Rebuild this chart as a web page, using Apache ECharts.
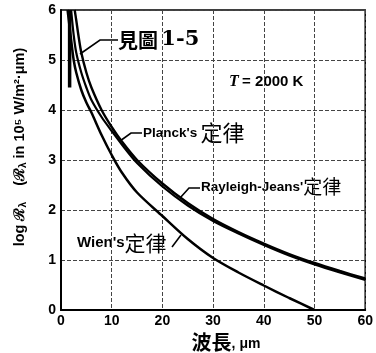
<!DOCTYPE html>
<html>
<head>
<meta charset="utf-8">
<script src="https://cdn.jsdelivr.net/npm/echarts@6/dist/echarts.min.js"></script>
<style>
html,body{margin:0;padding:0;background:#fff;}
#c{width:376px;height:353px;}
</style>
</head>
<body>
<div id="c"></div>
<script>
// ---- data ----
const xTicks = [0, 10, 20, 30, 40, 50, 60];
const yTicks = [0, 1, 2, 3, 4, 5, 6];

const planckX = [2.0, 2.5, 3, 4, 5, 6, 8, 10, 12, 15, 20, 25, 30, 35, 40, 45, 50, 55, 60];
const planckY = [6.0, 5.5, 5.15, 4.75, 4.45, 4.2, 3.86, 3.58, 3.31, 2.94, 2.47, 2.09, 1.78, 1.53, 1.30, 1.09, 0.91, 0.75, 0.60];

const rjX = [2.7, 3, 3.5, 4, 5, 6, 8, 10, 12, 15, 20, 25, 30, 35, 40, 45, 50, 55, 60];
const rjY = [6.0, 5.8, 5.45, 5.15, 4.75, 4.45, 4.0, 3.66, 3.37, 3.0, 2.53, 2.14, 1.82, 1.56, 1.33, 1.12, 0.94, 0.78, 0.63];

const wienX = [1.3, 2, 2.5, 3, 4, 5, 6, 8, 10, 12, 15, 20, 25, 30, 35, 40, 45, 50];
const wienY = [6.0, 5.4, 5.0, 4.75, 4.4, 4.15, 3.95, 3.5, 3.1, 2.75, 2.35, 1.88, 1.42, 1.04, 0.75, 0.49, 0.24, 0.0];

const stubX = [1.7, 1.7];
const stubY = [4.45, 6.0];

function pairs(xs, ys) { return xs.map((x, i) => [x, ys[i]]); }

const latin = "'Liberation Sans', Arial, sans-serif";
const cjk = "'Noto Sans CJK TC', 'Noto Sans CJK JP', sans-serif";

const chart = echarts.init(document.getElementById('c'), null, {renderer: 'canvas'});

const lineBase = {type: 'line', showSymbol: false, smooth: 0.3, silent: true, z: 5};

chart.setOption({
  animation: false,
  backgroundColor: '#fff',
  grid: {left: 61, right: 9, top: 10, bottom: 43, show: true, borderColor: '#000', borderWidth: 1.5, backgroundColor: 'transparent'},
  xAxis: {
    type: 'value', min: xTicks[0], max: xTicks[xTicks.length - 1], interval: 10,
    axisLine: {lineStyle: {color: '#000', width: 2}},
    axisTick: {show: false},
    axisLabel: {color: '#000', fontSize: 14, fontWeight: 'bold', fontFamily: latin, margin: 4},
    splitLine: {show: true, lineStyle: {color: '#444', width: 1, type: [4, 2]}}
  },
  yAxis: {
    type: 'value', min: yTicks[0], max: yTicks[yTicks.length - 1], interval: 1,
    axisLine: {show: true, lineStyle: {color: '#000', width: 2}},
    axisTick: {show: false},
    axisLabel: {color: '#000', fontSize: 14, fontWeight: 'bold', fontFamily: latin, margin: 5},
    splitLine: {show: true, lineStyle: {color: '#444', width: 1, type: [4, 2]}}
  },
  series: [
    Object.assign({}, lineBase, {name: "Planck's", data: pairs(planckX, planckY), lineStyle: {color: '#000', width: 2.2}}),
    Object.assign({}, lineBase, {name: 'Rayleigh-Jeans', data: pairs(rjX, rjY), lineStyle: {color: '#000', width: 2.4}}),
    Object.assign({}, lineBase, {name: "Wien's", data: pairs(wienX, wienY), lineStyle: {color: '#000', width: 2.5}}),
    Object.assign({}, lineBase, {name: 'stub', smooth: false, data: pairs(stubX, stubY), lineStyle: {color: '#000', width: 3.5}})
  ],
  graphic: [
    // y axis title
    {type: 'text', x: 20, y: 147, rotation: Math.PI / 2,
      style: {text: 'log ℛ{s|λ}    (ℛ{s|λ} in 10⁵ W/m²·μm)', fill: '#000', fontSize: 14.5, fontWeight: 'bold', fontFamily: latin,
        align: 'center', verticalAlign: 'middle',
        rich: {s: {fontSize: 10, fontWeight: 'bold', fontFamily: latin, fill: '#000', padding: [6, 0, 0, 0]}}}},
    // x axis title
    {type: 'text', x: 226, y: 342,
      style: {text: '{a|波長}{b|, μm}', align: 'center', verticalAlign: 'middle',
        rich: {a: {fontSize: 20, fontFamily: cjk, fontWeight: 'bold', fill: '#000'},
               b: {fontSize: 14, fontFamily: latin, fontWeight: 'bold', fill: '#000', padding: [4, 0, 0, 0]}}}},
    // 見圖 1-5
    {type: 'polyline', shape: {points: [[80, 54], [100, 40], [118, 40]]}, style: {stroke: '#000', lineWidth: 1.6, fill: null}},
    {type: 'text', x: 118, y: 40,
      style: {text: '{a|見圖} {b|1-5}', verticalAlign: 'middle', align: 'left',
        rich: {a: {fontSize: 20, fontFamily: cjk, fontWeight: 'bold', fill: '#000'},
               b: {fontSize: 21, fontFamily: "'DejaVu Serif', serif", fontWeight: 'bold', fill: '#000'}}}},
    // T = 2000 K
    {type: 'text', x: 229, y: 82,
      style: {text: '{t|T} {b|= 2000 K}', verticalAlign: 'middle', align: 'left',
        rich: {t: {fontSize: 16, fontFamily: "'Liberation Serif', serif", fontStyle: 'italic', fontWeight: 'bold', fill: '#000'},
               b: {fontSize: 15, fontFamily: latin, fontWeight: 'bold', fill: '#000'}}}},
    // Planck's 定律
    {type: 'polyline', shape: {points: [[120, 141], [131, 133], [142, 133]]}, style: {stroke: '#000', lineWidth: 1.6, fill: null}},
    {type: 'text', x: 143, y: 133,
      style: {text: "{a|Planck's} {b|定律}", verticalAlign: 'middle', align: 'left',
        rich: {a: {fontSize: 13.5, fontFamily: latin, fontWeight: 'bold', fill: '#000'},
               b: {fontSize: 22, fontFamily: cjk, fill: '#000'}}}},
    // Rayleigh-Jeans' 定律
    {type: 'polyline', shape: {points: [[180, 198], [189, 188], [200, 188]]}, style: {stroke: '#000', lineWidth: 1.6, fill: null}},
    {type: 'text', x: 201, y: 187,
      style: {text: "{a|Rayleigh-Jeans'}{b|定律}", verticalAlign: 'middle', align: 'left',
        rich: {a: {fontSize: 13.5, fontFamily: latin, fontWeight: 'bold', fill: '#000'},
               b: {fontSize: 19, fontFamily: cjk, fill: '#000'}}}},
    // Wien's定律
    {type: 'polyline', shape: {points: [[172, 247], [181, 235]]}, style: {stroke: '#000', lineWidth: 1.6, fill: null}},
    {type: 'text', x: 77, y: 243,
      style: {text: "{a|Wien's}{b|定律}", verticalAlign: 'middle', align: 'left',
        rich: {a: {fontSize: 15, fontFamily: latin, fontWeight: 'bold', fill: '#000'},
               b: {fontSize: 21, fontFamily: cjk, fill: '#000'}}}}
  ]
});
</script>
</body>
</html>
